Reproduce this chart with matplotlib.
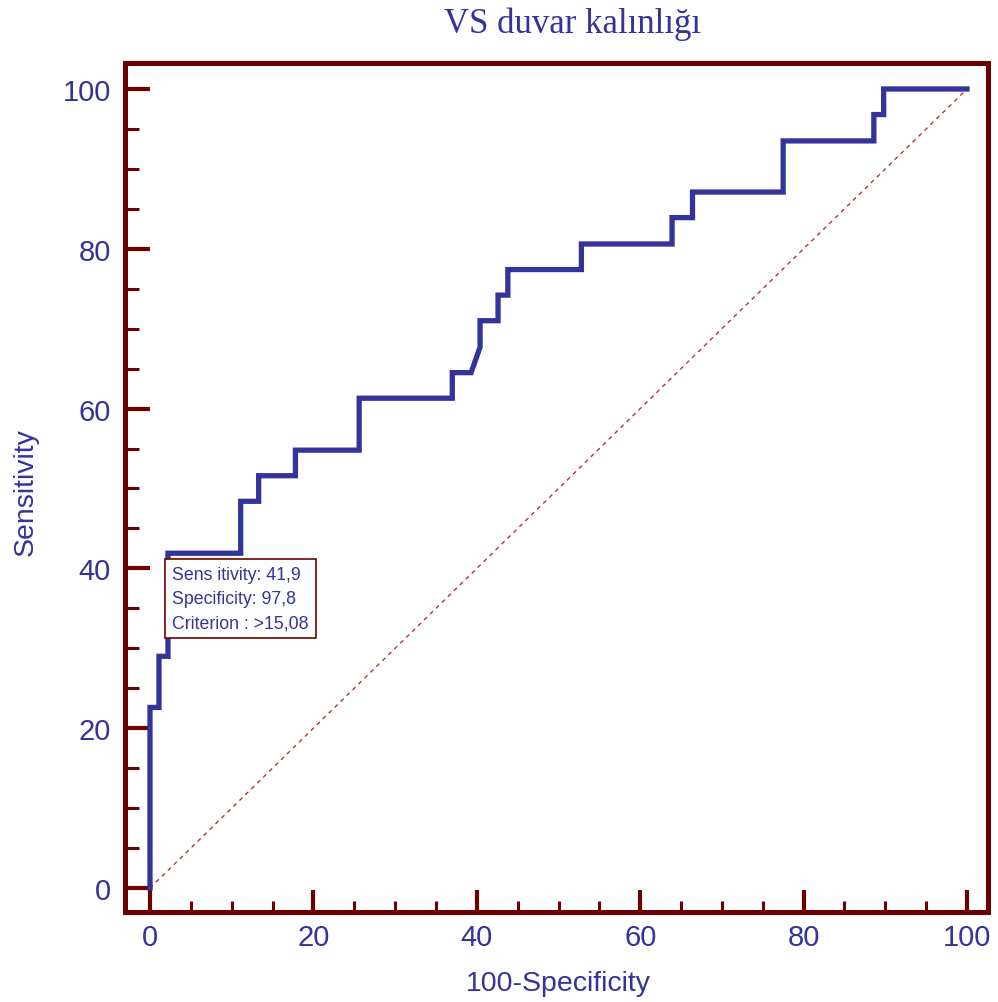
import matplotlib
matplotlib.use("Agg")
import matplotlib.pyplot as plt
from matplotlib.ticker import MultipleLocator

# ROC curve corner points (100-Specificity, Sensitivity)
fpr = [0, 0, 1.1, 1.1, 2.2, 2.2, 11.1, 11.1, 13.3, 13.3, 17.8, 17.8, 25.6, 25.6,
       37.0, 37.0, 39.3, 40.4, 40.4, 42.6, 42.6, 43.8, 43.8, 52.8, 52.8, 63.9, 63.9,
       66.4, 66.4, 77.5, 77.5, 88.6, 88.6, 89.8, 89.8, 100]
tpr = [0, 22.6, 22.6, 29.0, 29.0, 41.9, 41.9, 48.4, 48.4, 51.6, 51.6, 54.8, 54.8, 61.3,
       61.3, 64.5, 64.5, 67.7, 71.0, 71.0, 74.2, 74.2, 77.4, 77.4, 80.6, 80.6, 83.9,
       83.9, 87.1, 87.1, 93.5, 93.5, 96.8, 96.8, 100, 100]
ref_x = [0, 100]
ref_y = [0, 100]
ticks = [0, 20, 40, 60, 80, 100]
box_lines = ["Sens itivity: 41,9", "Specificity: 97,8", "Criterion : >15,08"]
title = "VS duvar kalınlığı"
xlabel = "100-Specificity"
ylabel = "Sensitivity"

BLUE = "#333399"
RED = "#6e0000"

fig = plt.figure(figsize=(9.98, 10.03), dpi=100)
ax = fig.add_axes([125/998, 1-913/1003, (988-125)/998, (913-64)/1003])

ax.plot(ref_x, ref_y, color="#a83a3a", lw=1.0, ls=(0, (3, 3)))
ax.plot(fpr, tpr, color=BLUE, lw=3.8, solid_joinstyle="miter")

ax.set_xlim(-3.06, 102.57)
ax.set_ylim(-3.0, 103.25)
ax.set_xticks(ticks)
ax.set_yticks(ticks)
ax.xaxis.set_minor_locator(MultipleLocator(5))
ax.yaxis.set_minor_locator(MultipleLocator(5))

for s in ax.spines.values():
    s.set_color(RED)
    s.set_linewidth(3.6)

ax.tick_params(axis="x", which="major", direction="in", length=16, width=3,
               color=RED, labelcolor=BLUE, labelsize=21, pad=8, top=False)
ax.tick_params(axis="x", which="minor", direction="in", length=8, width=2.2,
               color=RED, top=False)
ax.tick_params(axis="y", which="major", direction="in", length=18, width=3,
               color=RED, labelcolor=BLUE, labelsize=21, pad=10, right=False)
ax.tick_params(axis="y", which="minor", direction="in", length=10, width=2.2,
               color=RED, right=False)
for lab in ax.get_xticklabels() + ax.get_yticklabels():
    lab.set_fontfamily("Liberation Sans")

ax.text(2.75, 40.3, "\n".join(box_lines), fontsize=12.8, color=BLUE,
        family="Liberation Sans", va="top", ha="left", linespacing=1.55,
        bbox=dict(boxstyle="square,pad=0.4", fc="white", ec=RED, lw=1.2),
        zorder=5)

fig.text(573/998, 1-24/1003, title, ha="center", va="center", fontsize=25,
         color=BLUE, family="Liberation Serif")
fig.text(558/998, 1-984/1003, xlabel, ha="center", va="center", fontsize=20.5,
         color=BLUE, family="Liberation Sans")
fig.text(26/998, 1-492/1003, ylabel, ha="center", va="center", fontsize=20.5,
         color=BLUE, family="Liberation Sans", rotation=90)

fig.savefig("out.png", dpi=100, facecolor="white")
